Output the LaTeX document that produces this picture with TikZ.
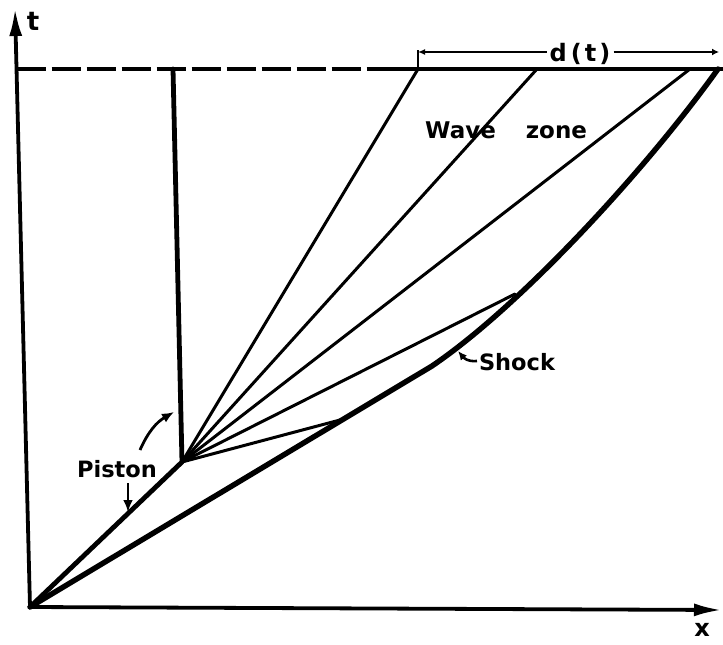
\documentclass[tikz,border=0pt]{standalone}
\usepackage{fontspec}
\setmainfont{DejaVu Sans}
\usetikzlibrary{arrows.meta}
\begin{document}
\begin{tikzpicture}[x=1pt,y=-1pt,
  axisline/.style={line width=3.8pt, -{Latex[length=28pt,width=13pt]}},
  pistonline/.style={line width=4.8pt, line cap=round, line join=round},
  shockline/.style={line width=5.4pt, line cap=round, line join=round},
  fanline/.style={line width=3pt, line cap=round},
  topline/.style={line width=3.3pt},
  dashline/.style={line width=3.3pt, dash pattern=on 29pt off 6pt},
  dimline/.style={line width=2.6pt},
  lblarrow/.style={line width=2.8pt, -{Latex[length=12pt,width=10pt]}},
  lbl/.style={font=\fontsize{22}{26}\selectfont\bfseries, inner sep=0pt}]
\useasboundingbox (0,0) rectangle (723,645);

% key points
\coordinate (O) at (30,607);
\coordinate (T) at (15,8);
\coordinate (X) at (722,610);
\coordinate (L) at (16.5,69);
\coordinate (M) at (382,69);
\coordinate (R) at (723,69);
\coordinate (P) at (182,462);
\coordinate (Ptop) at (173,69);
\coordinate (D1) at (418,69);
\coordinate (D2) at (537,69);
\coordinate (D3) at (690,69);
\coordinate (S5) at (340,420);
\coordinate (S4) at (515,294);
\coordinate (SA) at (432,366);
\coordinate (Send) at (718,69);

% axes
\draw[axisline] (O) -- (T);
\draw[axisline] (O) -- (X);
\node[lbl, font=\fontsize{26}{30}\selectfont\bfseries] (tl) at (33,21) {t};
\node[lbl, font=\fontsize{24}{28}\selectfont\bfseries] (xl) at (702,630) {x};

% top time line
\draw[dashline] (L) -- (M);
\draw[topline] (M) -- (R);

% piston
\draw[pistonline] (O) -- (P) -- (Ptop);

% wave fan
\draw[fanline] (P) -- (D1);
\draw[fanline] (P) -- (D2);
\draw[fanline] (P) -- (D3);
\draw[fanline] (P) -- (S4);
\draw[fanline] (P) -- (S5);

% shock
\draw[shockline] (O) -- (SA) .. controls (522,305) and (648,167) .. (Send);

% d(t) dimension
\coordinate (Dtick) at (418,50);
\coordinate (Dl) at (418,52);
\coordinate (Dr) at (719,52);
\node[lbl, font=\fontsize{24}{28}\selectfont\bfseries] (dt) at (580,54) {d\kern4pt(\kern3pt t\kern3pt)};
\draw[dimline] (D1) -- (Dtick);
\draw[dimline, {Latex[length=7pt,width=6pt]}-] (Dl) -- ([xshift=-3pt]dt.west |- Dl);
\draw[dimline, -{Latex[length=7pt,width=7pt]}] ([xshift=3pt]dt.east |- Dr) -- (Dr);

% labels
\node[lbl, font=\fontsize{23}{26}\selectfont\bfseries] (wz) at (425,138) [anchor=base west] {Wave\hspace{30pt}zone};
\node[lbl, font=\fontsize{22.5}{26}\selectfont\bfseries] (pl) at (117,469) {Piston};
\node[lbl, font=\fontsize{22.5}{26}\selectfont\bfseries] (sl) at (517,362) {Shock};

% label arrows
\coordinate (pa1s) at (140,450);
\coordinate (pa1e) at (174,412);
\draw[lblarrow] (pa1s) to[bend left=18] (pa1e);
\coordinate (pa2s) at (128,483);
\coordinate (pa2e) at (128,512);
\draw[lblarrow] (pa2s) -- (pa2e);
\coordinate (sa1) at (477,361);
\coordinate (sa2) at (458,351);
\draw[line width=2.6pt, -{Latex[length=9pt,width=8pt]}] (sa1) .. controls (467,362) and (463,357) .. (sa2);
\end{tikzpicture}
\end{document}
